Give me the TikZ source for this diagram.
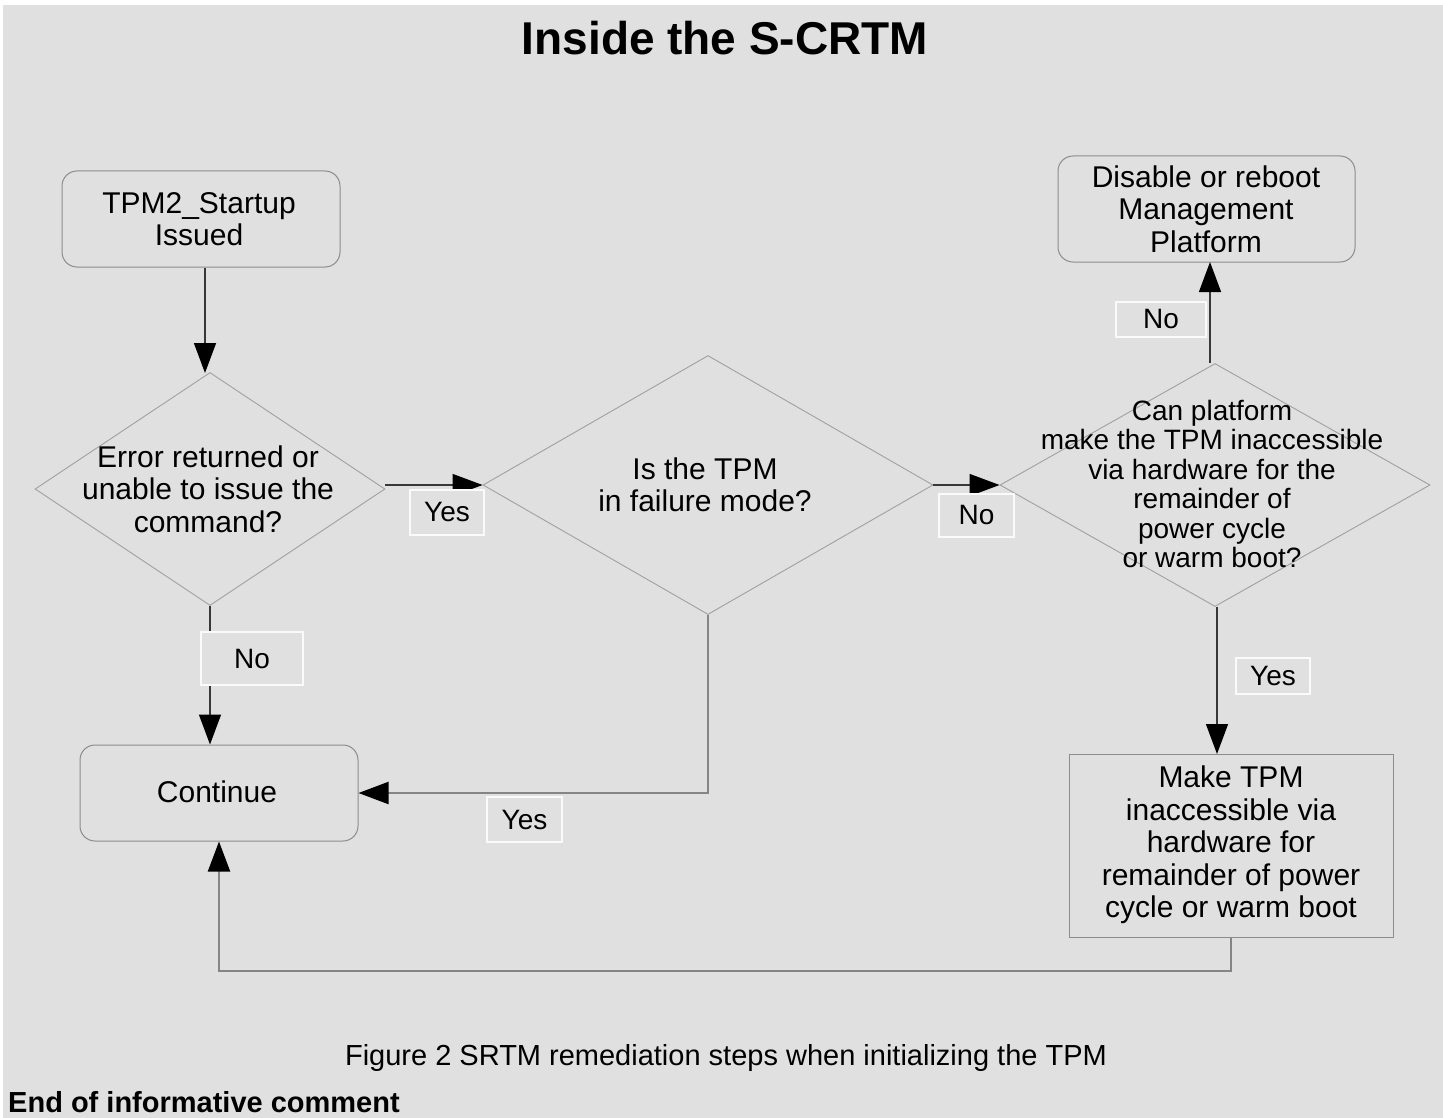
\documentclass[tikz,border=0pt]{standalone}
\usepackage{fontspec}
\setmainfont{Liberation Sans}
\usetikzlibrary{shapes.geometric,arrows.meta}
\definecolor{bg}{HTML}{E0E0E0}
\definecolor{boxline}{HTML}{8C8C8C}
\definecolor{dialine}{HTML}{A0A0A0}
\definecolor{arrline}{HTML}{383838}
\definecolor{grayline}{HTML}{858585}
\begin{document}
\begin{tikzpicture}[x=1pt,y=-1pt,
  txt/.style={font=\fontsize{30}{32.5}\selectfont, align=center, text=black, inner sep=0pt},
  rbox/.style={draw=boxline, line width=1pt, rounded corners=15pt, inner sep=0pt},
  sbox/.style={draw=boxline, line width=1pt, inner sep=0pt},
  dia/.style={diamond, draw=dialine, line width=0.9pt, inner sep=0pt},
  lbl/.style={draw=white!85!bg, line width=1.6pt, fill=bg, inner sep=0pt,
     font=\fontsize{28}{30}\selectfont, text=black},
  arr/.style={draw=arrline, line width=1.4pt, -{Triangle[length=30pt,width=22pt,color=black]}},
  garr/.style={draw=grayline, line width=2pt, -{Triangle[length=30pt,width=22pt,color=black]}},
]
\useasboundingbox (0,0) rectangle (1443,1118);
\fill[white] (0,0) rectangle (1443,1118);
\fill[bg] (3,5) rectangle (1443,1118);

\node[font=\fontsize{46}{50}\selectfont\bfseries] (title) at (725,38) {Inside the S-CRTM};

% boxes
\node[rbox, minimum width=278pt, minimum height=96pt] (tpm) at (201,219) {};
\node[txt] (tpmt) at (199,219) {TPM2\_Startup\\Issued};
\node[rbox, minimum width=297pt, minimum height=106pt] (dis) at (1206.5,209) {};
\node[txt] (dist) at (1206,209) {Disable or reboot\\Management\\Platform};
\node[rbox, minimum width=278pt, minimum height=96pt] (cont) at (219,793) {};
\node[txt] (contt) at (217,792) {Continue};
\node[sbox, minimum width=324pt, minimum height=183pt] (make) at (1231,845.5) {};
\node[txt] (maket) at (1231,845) {Make TPM\\inaccessible via\\hardware for\\remainder of power\\cycle or warm boot};

% diamonds
\node[dia, minimum width=350pt, minimum height=233pt] (d1) at (210,489) {};
\node[txt] (d1t) at (208,489) {Error returned or\\unable to issue the\\command?};
\node[dia, minimum width=450pt, minimum height=259pt] (d2) at (708,485) {};
\node[txt] (d2t) at (705,485) {Is the TPM\\in failure mode?};
\node[dia, minimum width=430pt, minimum height=243pt] (d3) at (1215,485) {};
\node[txt, font=\fontsize{28}{29.5}\selectfont] (d3t) at (1212,484) {Can platform\\make the TPM inaccessible\\via hardware for the\\remainder of\\power cycle\\or warm boot?};

% connectors
\draw[arr] (tpm.south -| 205,0) -- (205,373);
\draw[arr] (d1.east |- 0,485) -- (d2.west |- 0,485);
\draw[arr] (d2.east) -- (d3.west);
\draw[arr] (d3.north -| 1210,0) -- (1210,262);
\draw[arr] (d3.south -| 1217,0) -- (1217,754);
\draw[arr] (d1.south) -- (d1.south |- cont.north);
\draw[garr] (d2.south) |- (cont.east);
\draw[garr] (make.south) -- ++(0,33) -| (cont.south);

% labels
\node[lbl, minimum width=74pt, minimum height=45pt] (l1) at (447,512.5) {Yes};
\node[lbl, minimum width=75pt, minimum height=43pt] (l2) at (976.5,515.5) {No};
\node[lbl, minimum width=90pt, minimum height=35pt] (l3) at (1161,319.5) {No};
\node[lbl, minimum width=74pt, minimum height=36pt] (l4) at (1273,676) {Yes};
\node[lbl, minimum width=102pt, minimum height=53pt] (l5) at (252,658.5) {No};
\node[lbl, minimum width=75pt, minimum height=45pt] (l6) at (524.5,819.5) {Yes};

% caption
\node[font=\fontsize{29}{31}\selectfont] (cap) at (726,1058) {Figure 2 SRTM remediation steps when initializing the TPM};
\node[font=\fontsize{29}{30}\selectfont\bfseries, anchor=base west, inner sep=0pt] (end) at (8,1112) {End of informative comment};
\end{tikzpicture}
\end{document}
